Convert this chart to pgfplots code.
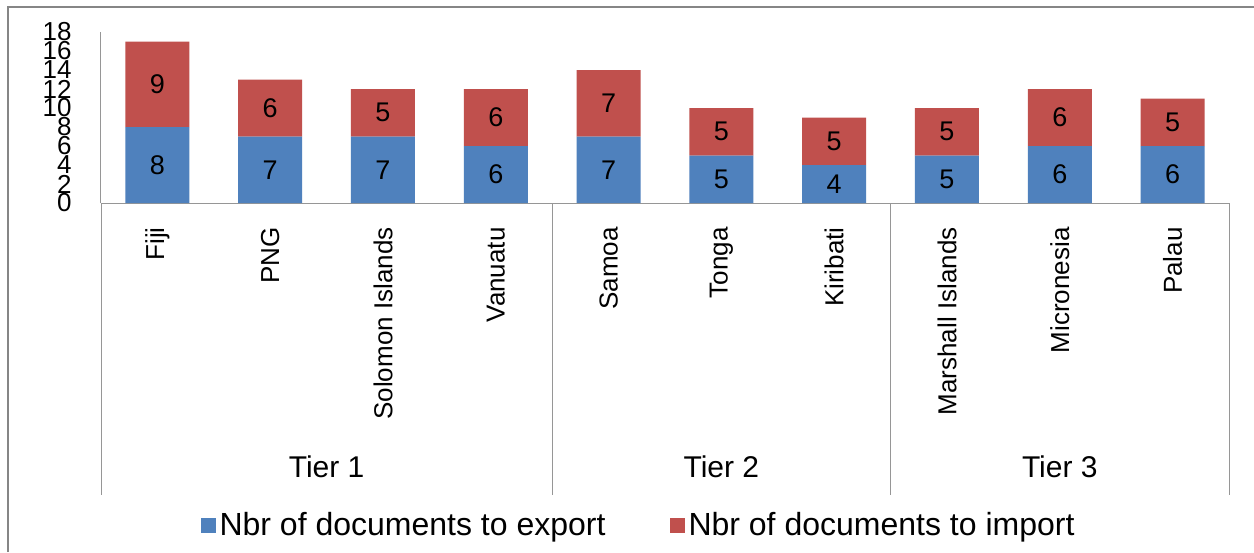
\documentclass[border=0pt]{standalone}
\usepackage{pgfplots}
\pgfplotsset{compat=1.18}
\usepackage{fontspec}
\setmainfont{Liberation Sans}
\definecolor{expblue}{RGB}{79,129,189}
\definecolor{impred}{RGB}{192,80,77}
\definecolor{axgray}{RGB}{150,150,150}
\definecolor{framegray}{RGB}{134,134,134}
\begin{document}
\begin{tikzpicture}
\path[use as bounding box, fill=white] (-50.5pt,-174.5pt) rectangle (576.5pt,101.5pt);
\draw[framegray, line width=1pt] (-46.5pt,-174.5pt) -- (-46.5pt,98pt) -- (576.5pt,98pt);
\begin{axis}[
  at={(0pt,0pt)}, anchor=south west,
  scale only axis, width=564pt, height=85.5pt,
  ybar stacked, bar width=32pt,
  xmin=-0.5, xmax=9.5, ymin=0, ymax=18,
  xtick={0,...,9},
  xticklabels={Fiji,PNG,Solomon Islands,Vanuatu,Samoa,Tonga,Kiribati,Marshall Islands,Micronesia,Palau},
  ytick={0,2,...,18},
  axis lines=left,
  axis line style={draw=axgray, line width=0.5pt, -},
  major tick length=0pt,
  tick style={draw=none},
  /pgf/number format/assume math mode=true,
  xticklabel style={yshift=-12pt, rotate=90, anchor=east, inner sep=0pt, font=\fontsize{13}{15}\selectfont},
  yticklabel style={anchor=east, inner sep=0pt, xshift=-14.5pt, font=\fontsize{13}{15}\selectfont},
  clip=false,
  legend columns=2,
  legend style={at={(0.4774,-1.883)}, anchor=center, draw=none, fill=none,
    font=\fontsize{16}{19}\selectfont,
    /tikz/every even column/.append style={column sep=30pt}},
  legend image code/.code={\fill[#1] (-3pt,-3.75pt) rectangle (4.5pt,3.75pt);},
]
\addplot[fill=expblue, draw=none] coordinates {(0,8) (1,7) (2,7) (3,6) (4,7) (5,5) (6,4) (7,5) (8,6) (9,6)};
\addplot[fill=impred, draw=none] coordinates {(0,9) (1,6) (2,5) (3,6) (4,7) (5,5) (6,5) (7,5) (8,6) (9,5)};
\legend{Nbr of documents to export, Nbr of documents to import}
\draw[axgray] (axis cs:-0.5,0) -- ++(0pt,-146pt);
\draw[axgray] (axis cs:3.5,0) -- ++(0pt,-146pt);
\draw[axgray] (axis cs:6.5,0) -- ++(0pt,-146pt);
\draw[axgray] (axis cs:9.5,0) -- ++(0pt,-146pt);
\node[font=\fontsize{15}{18}\selectfont] at (axis cs:1.5,0) [yshift=-132pt] {Tier 1};
\node[font=\fontsize{15}{18}\selectfont] at (axis cs:5,0) [yshift=-132pt] {Tier 2};
\node[font=\fontsize{15}{18}\selectfont] at (axis cs:8,0) [yshift=-132pt] {Tier 3};
\end{axis}
% overlay axis for centred segment labels
\begin{axis}[
  at={(0pt,0pt)}, anchor=south west,
  scale only axis, width=564pt, height=85.5pt,
  xmin=-0.5, xmax=9.5, ymin=0, ymax=18,
  hide axis, clip=false,
  nodes near coords, point meta=explicit symbolic,
  every node near coord/.append style={anchor=center, inner sep=0pt, font=\fontsize{13.5}{16}\selectfont, text=black},
]
\addplot[only marks, mark=none] coordinates {(0,4)[8] (1,3.5)[7] (2,3.5)[7] (3,3)[6] (4,3.5)[7] (5,2.5)[5] (6,2)[4] (7,2.5)[5] (8,3)[6] (9,3)[6]};
\addplot[only marks, mark=none] coordinates {(0,12.5)[9] (1,10)[6] (2,9.5)[5] (3,9)[6] (4,10.5)[7] (5,7.5)[5] (6,6.5)[5] (7,7.5)[5] (8,9)[6] (9,8.5)[5]};
\end{axis}
\end{tikzpicture}
\end{document}
